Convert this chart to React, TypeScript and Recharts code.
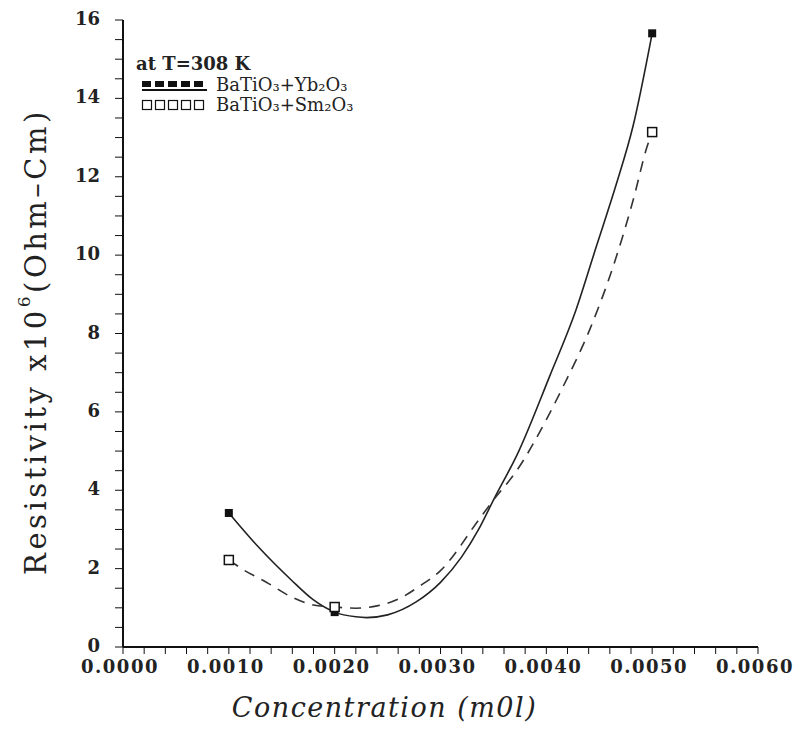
import {
  ComposedChart,
  Line,
  Scatter,
  XAxis,
  YAxis,
} from "recharts";

// measured points
const concentration = [0.001, 0.002, 0.005];
const ybResistivity = [3.42, 0.89, 15.66];
const smResistivity = [2.22, 1.02, 13.14];

// fitted curves
const ybFitX = [0.001, 0.00128, 0.00159, 0.0018, 0.002, 0.0022, 0.0023, 0.0025, 0.00277, 0.003, 0.0032, 0.00336, 0.0035, 0.00374, 0.00403, 0.00428, 0.00447, 0.00466, 0.00482, 0.005];
const ybFitY = [3.42, 2.55, 1.71, 1.2, 0.89, 0.77, 0.75, 0.82, 1.15, 1.65, 2.3, 3.0, 3.75, 5.0, 6.9, 8.6, 10.2, 11.8, 13.3, 15.66];
const smFitX = [0.001, 0.00112, 0.00135, 0.00159, 0.0018, 0.002, 0.0022, 0.0024, 0.0026, 0.0028, 0.003, 0.00336, 0.0035, 0.00372, 0.004, 0.00415, 0.00441, 0.00463, 0.00482, 0.00495, 0.005];
const smFitY = [2.22, 2.0, 1.66, 1.28, 1.07, 1.02, 0.99, 1.05, 1.22, 1.55, 1.95, 3.24, 3.75, 4.5, 5.8, 6.6, 8.1, 9.7, 11.4, 12.75, 13.14];

const xTicks = [0, 0.001, 0.002, 0.003, 0.004, 0.005, 0.006];
const xTickLabels = ["0.0000", "0.0010", "0.0020", "0.0030", "0.0040", "0.0050", "0.0060"];
const xMinorTicks = [0.0002, 0.0004, 0.0006, 0.0008, 0.0012, 0.0014, 0.0016, 0.0018, 0.0022, 0.0024, 0.0026, 0.0028, 0.0032, 0.0034, 0.0036, 0.0038, 0.0042, 0.0044, 0.0046, 0.0048, 0.0052, 0.0054, 0.0056, 0.0058];
const yTicks = [0, 2, 4, 6, 8, 10, 12, 14, 16];
const yMinorTicks = [0.5, 1, 1.5, 2.5, 3, 3.5, 4.5, 5, 5.5, 6.5, 7, 7.5, 8.5, 9, 9.5, 10.5, 11, 11.5, 12.5, 13, 13.5, 14.5, 15, 15.5];

const FONT = "'DejaVu Serif', serif";

const ybPoints = concentration.map((x, i) => ({ x, y: ybResistivity[i] }));
const smPoints = concentration.map((x, i) => ({ x, y: smResistivity[i] }));
const ybCurve = ybFitX.map((x, i) => ({ x, y: ybFitY[i] }));
const smCurve = smFitX.map((x, i) => ({ x, y: smFitY[i] }));

const allXTicks = [...xTicks, ...xMinorTicks].sort((a, b) => a - b);
const allYTicks = [...yTicks, ...yMinorTicks].sort((a, b) => a - b);

function XTick({ x, y, payload }: any) {
  const idx = xTicks.findIndex((t) => Math.abs(t - payload.value) < 1e-9);
  if (idx < 0) return null;
  return (
    <text x={x - 3} y={y + 17} textAnchor="middle" fontFamily={FONT} fontWeight="bold" fontSize={18} letterSpacing={1.5} fill="#222">
      {xTickLabels[idx]}
    </text>
  );
}

function YTick({ x, y, payload }: any) {
  if (!yTicks.includes(payload.value)) return null;
  return (
    <text x={x} y={y + 5} textAnchor="end" fontFamily={FONT} fontWeight="bold" fontSize={18} fill="#222">
      {payload.value}
    </text>
  );
}

function FilledSquare({ cx, cy }: any) {
  return <rect x={cx - 4} y={cy - 4} width={8} height={8} fill="#111" />;
}

function OpenSquare({ cx, cy }: any) {
  return <rect x={cx - 4.5} y={cy - 4.5} width={9} height={9} fill="#fff" stroke="#111" strokeWidth={1.5} />;
}

function YTitle({ viewBox }: any) {
  const cx = 36;
  const cy = viewBox.y + viewBox.height / 2 + 8;
  return (
    <text
      x={cx}
      y={cy}
      transform={`rotate(-90, ${cx}, ${cy})`}
      textAnchor="middle"
      dominantBaseline="central"
      fontFamily={FONT}
      fontSize={29}
      letterSpacing={3.5}
      fill="#222"
    >
      Resistivity x10<tspan dy={-12} fontSize={17}>6</tspan>
      <tspan dy={12}>(Ohm–Cm)</tspan>
    </text>
  );
}

function Legend() {
  const squares = [0, 1, 2, 3, 4];
  return (
    <div style={{ position: "absolute", left: 136, top: 54, fontFamily: FONT, color: "#222", lineHeight: "20px" }}>
      <div style={{ fontWeight: "bold", fontSize: 18, marginBottom: 1 }}>at T=308 K</div>
      <div style={{ display: "flex", alignItems: "center", fontSize: 18 }}>
        <svg width={76} height={18}>
          {squares.map((i) => (
            <rect key={i} x={6 + i * 13} y={5} width={9} height={6} fill="#111" />
          ))}
          <line x1={6} x2={71} y1={14} y2={14} stroke="#111" strokeWidth={2} />
        </svg>
        <span style={{ marginLeft: 4 }}>BaTiO₃+Yb₂O₃</span>
      </div>
      <div style={{ display: "flex", alignItems: "center", fontSize: 18 }}>
        <svg width={76} height={18}>
          {squares.map((i) => (
            <rect key={i} x={6.5 + i * 13} y={4.5} width={9} height={9} fill="#fff" stroke="#111" strokeWidth={1.2} />
          ))}
        </svg>
        <span style={{ marginLeft: 4 }}>BaTiO₃+Sm₂O₃</span>
      </div>
    </div>
  );
}

export default function App() {
  return (
    <div style={{ position: "absolute", left: 0, top: 0, width: 799, height: 743, background: "#fff" }}>
      <ComposedChart width={799} height={743} margin={{ top: 20, right: 41, bottom: 0, left: 0 }}>
        <XAxis
          xAxisId="main"
          type="number"
          dataKey="x"
          domain={[0, 0.006]}
          ticks={allXTicks}
          interval={0}
          height={96}
          tick={<XTick />}
          tickSize={7}
          tickLine={{ stroke: "#111" }}
          axisLine={{ stroke: "#111", strokeWidth: 2 }}
          label={{
            value: "Concentration (m0l)",
            position: "insideBottom",
            offset: 26,
            fontFamily: FONT,
            fontStyle: "italic",
            fontSize: 27,
            letterSpacing: 1.5,
            fill: "#222",
            dx: -56,
          }}
        />
        <XAxis xAxisId="top" type="number" orientation="top" domain={[0, 0.006]} height={0} tick={false} tickLine={false} axisLine={{ stroke: "#111", strokeWidth: 2 }} />
        <YAxis
          yAxisId="main"
          type="number"
          domain={[0, 16]}
          ticks={allYTicks}
          interval={0}
          width={123}
          tick={<YTick />}
          tickSize={8}
          tickMargin={15}
          tickLine={{ stroke: "#111" }}
          axisLine={{ stroke: "#111", strokeWidth: 2 }}
          label={<YTitle />}
        />
        <YAxis yAxisId="right" orientation="right" domain={[0, 16]} width={0} tick={false} tickLine={false} axisLine={{ stroke: "#111", strokeWidth: 2 }} />
        <Line
          xAxisId="main"
          yAxisId="main"
          data={ybCurve}
          dataKey="y"
          type="monotone"
          stroke="#222"
          strokeWidth={1.6}
          dot={false}
          isAnimationActive={false}
        />
        <Line
          xAxisId="main"
          yAxisId="main"
          data={smCurve}
          dataKey="y"
          type="monotone"
          stroke="#333"
          strokeWidth={1.6}
          strokeDasharray="11 8"
          dot={false}
          isAnimationActive={false}
        />
        <Scatter xAxisId="main" yAxisId="main" data={ybPoints} dataKey="y" shape={<FilledSquare />} isAnimationActive={false} />
        <Scatter xAxisId="main" yAxisId="main" data={smPoints} dataKey="y" shape={<OpenSquare />} isAnimationActive={false} />
      </ComposedChart>
      <Legend />
    </div>
  );
}
